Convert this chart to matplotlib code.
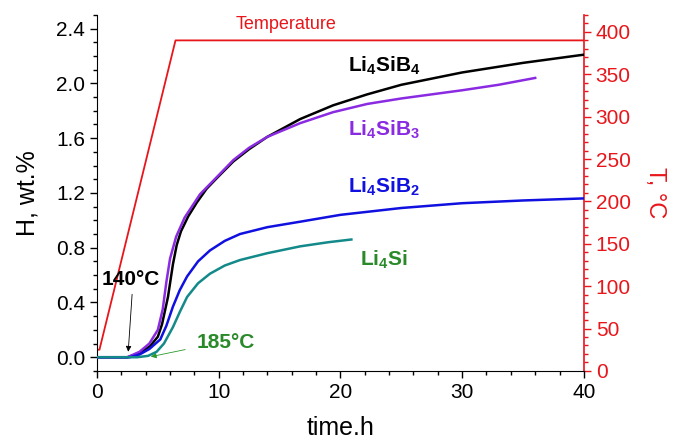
import matplotlib
matplotlib.use("Agg")
import matplotlib.pyplot as plt
from matplotlib.ticker import MultipleLocator, FormatStrFormatter

plt.rcParams['font.family'] = ['Liberation Sans', 'DejaVu Sans']
plt.rcParams['mathtext.default'] = 'regular'

# Data
t_b4 = [0, 2.5, 3.5, 4.35, 5.0, 5.34, 5.83, 6.24, 6.55, 6.9, 7.5, 8.2, 9.0, 9.86, 11.2, 12.5, 14.0, 16.7, 19.4, 22.2, 25, 30, 35, 40]
h_b4 = [0, 0, 0.03, 0.08, 0.15, 0.24, 0.44, 0.68, 0.82, 0.92, 1.03, 1.13, 1.23, 1.31, 1.43, 1.52, 1.61, 1.74, 1.84, 1.92, 1.99, 2.08, 2.15, 2.21]

t_b3 = [0, 2.5, 3.5, 4.3, 5.0, 5.4, 5.7, 6.0, 6.5, 7.2, 8.46, 10, 11.2, 12.5, 14, 16.7, 19.4, 22.2, 25, 30, 33, 36]
h_b3 = [0, 0, 0.04, 0.1, 0.2, 0.35, 0.55, 0.72, 0.88, 1.02, 1.19, 1.33, 1.44, 1.53, 1.61, 1.71, 1.79, 1.85, 1.89, 1.95, 1.99, 2.04]

t_b2 = [0, 2.7, 3.5, 4.3, 5.2, 5.7, 6.24, 6.8, 7.4, 8.3, 9.28, 10.5, 11.75, 14, 16.7, 20, 25, 30, 35, 40]
h_b2 = [0, 0, 0.02, 0.06, 0.13, 0.23, 0.37, 0.49, 0.59, 0.70, 0.78, 0.85, 0.90, 0.95, 0.99, 1.04, 1.09, 1.125, 1.145, 1.16]

t_si = [0, 3.3, 4.2, 4.9, 5.5, 6.24, 6.8, 7.4, 8.3, 9.28, 10.5, 11.75, 14, 16.7, 19, 20.9]
h_si = [0, 0, 0.01, 0.04, 0.10, 0.22, 0.33, 0.44, 0.54, 0.61, 0.67, 0.71, 0.76, 0.81, 0.84, 0.86]

t_temp = [0, 0.2, 6.45, 40]
temp = [25, 25, 390, 390]

RED = '#e8161b'
PURPLE = '#8a2be2'
BLUE = '#1010e0'
TEAL = '#13898a'
GREEN = '#2a8a2a'

fig = plt.figure(figsize=(6.75, 4.4), dpi=100)
ax = fig.add_axes([0.1437, 0.157, 0.865 - 0.1437, 0.966 - 0.157])
ax2 = ax.twinx()

ax2.plot(t_temp, temp, color=RED, lw=1.3, zorder=1)

ax.plot(t_b4, h_b4, color='black', lw=1.8, zorder=3)
ax.plot(t_b3, h_b3, color=PURPLE, lw=1.8, zorder=4)
ax.plot(t_b2, h_b2, color=BLUE, lw=1.8, zorder=5)
ax.plot(t_si, h_si, color=TEAL, lw=1.8, zorder=6)

ax.set_zorder(ax2.get_zorder() + 1)
ax.patch.set_visible(False)

ax.set_xlim(0, 40)
ax.set_ylim(-0.1, 2.5)
ax2.set_ylim(0, 420)

ax.xaxis.set_major_locator(MultipleLocator(10))
ax.xaxis.set_minor_locator(MultipleLocator(2))
ax.yaxis.set_major_locator(MultipleLocator(0.4))
ax.yaxis.set_minor_locator(MultipleLocator(0.1))
ax.yaxis.set_major_formatter(FormatStrFormatter('%.1f'))
ax2.yaxis.set_major_locator(MultipleLocator(50))
ax2.yaxis.set_minor_locator(MultipleLocator(10))

for a in (ax, ax2):
    a.spines['top'].set_visible(False)
ax.spines['right'].set_visible(False)
ax2.spines['left'].set_visible(False)
ax2.spines['bottom'].set_visible(False)
ax2.spines['right'].set_color(RED)
ax2.spines['right'].set_linewidth(1.2)

ax.tick_params(axis='both', which='major', length=5, width=1, labelsize=15, direction='out')
ax.tick_params(axis='both', which='minor', length=3, width=1, direction='out')
ax2.tick_params(axis='y', which='major', length=5, width=1, labelsize=15, colors=RED)
ax2.tick_params(axis='y', which='minor', length=3, width=1, colors=RED)

ax.set_xlabel('time.h', fontsize=18, labelpad=10)
ax.set_ylabel('H, wt.%', fontsize=18, labelpad=12)
ax2.set_ylabel('T, °C', fontsize=17, color=RED, rotation=270, labelpad=25)

ax2.text(15.5, 409, 'Temperature', color=RED, fontsize=13, ha='center', va='center')

ax.text(20.6, 2.13, 'Li$_4$SiB$_4$', color='black', fontsize=15, fontweight='bold', va='center')
ax.text(20.6, 1.66, 'Li$_4$SiB$_3$', color=PURPLE, fontsize=15, fontweight='bold', va='center')
ax.text(20.6, 1.245, 'Li$_4$SiB$_2$', color=BLUE, fontsize=15, fontweight='bold', va='center')
ax.text(21.6, 0.71, 'Li$_4$Si', color=GREEN, fontsize=15, fontweight='bold', va='center')

ax.text(0.4, 0.565, '140°C', color='black', fontsize=15, fontweight='bold', va='center')
ax.annotate('', xy=(2.55, 0.02), xytext=(2.9, 0.48),
            arrowprops=dict(arrowstyle='-|>', color='black', lw=0.6, mutation_scale=8))
ax.text(8.2, 0.105, '185°C', color=GREEN, fontsize=15, fontweight='bold', va='center')
ax.annotate('', xy=(4.2, 0.0), xytext=(7.47, 0.06),
            arrowprops=dict(arrowstyle='-|>', color='#2a9a2a', lw=0.6, mutation_scale=8))

fig.savefig('out.png', dpi=100)
